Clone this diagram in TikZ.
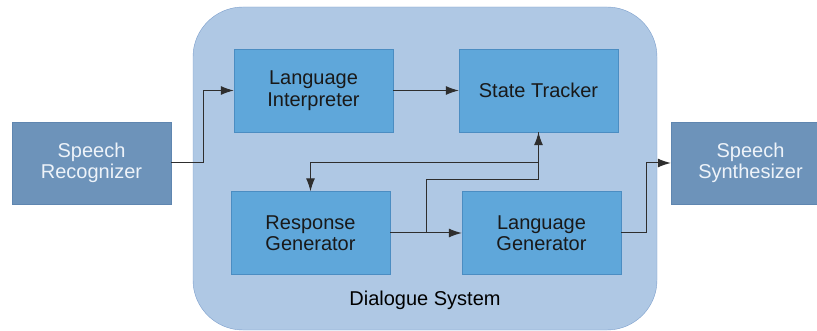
\documentclass[tikz,border=0pt]{standalone}
\usepackage{fontspec}
\setmainfont{Liberation Sans}
\usetikzlibrary{arrows.meta}
\definecolor{sysfill}{HTML}{AFC8E4}
\definecolor{sysline}{HTML}{7C9FCC}
\definecolor{modfill}{HTML}{5FA7DA}
\definecolor{modline}{HTML}{4B8DC2}
\definecolor{iofill}{HTML}{6D93BA}
\definecolor{ioline}{HTML}{5F86B0}
\definecolor{iotext}{HTML}{EEF3F9}
\definecolor{wire}{HTML}{2E2E2E}
\tikzstyle{module} = [draw=modline, fill=modfill, minimum width=159pt, minimum height=83pt, align=center, font=\fontsize{20}{21.5}\selectfont, text=black!90]
\tikzstyle{io} = [draw=ioline, fill=iofill, minimum width=159pt, minimum height=82pt, align=center, font=\fontsize{20}{21.5}\selectfont, text=iotext]
\tikzstyle{link} = [draw=wire, line width=1pt, -{Latex[length=13pt,width=9pt]}]

\begin{document}
\begin{tikzpicture}[x=1pt,y=-1pt]
    \useasboundingbox (0,0) rectangle (817,331);
    \draw[draw=sysline, fill=sysfill, rounded corners=50pt] (193,7) rectangle (657,330);
    \node at (425,300) {\fontsize{20}{22}\selectfont Dialogue System};
    \draw (91.5,163) node[io] (sr) {Speech\\Recognizer};
    \draw (750.5,163) node[io] (ss) {Speech\\Synthesizer};
    \draw (313.5,90.5) node[module] (li) {Language\\Interpreter};
    \draw (538.5,90.5) node[module] (st) {State Tracker};
    \draw (310.5,233) node[module] (rg) {Response\\Generator};
    \draw (541.5,233) node[module] (lg) {Language\\Generator};
    \coordinate (split) at (426,233);
    \draw[link] (sr.east) -- ++(32,0) |- (li.west);
    \draw[link] (li) -- (st);
    \draw[link] (st.south) -- ++(0,30) -| (rg.north);
    \draw[link] (rg) -- (lg);
    \draw[link] (split) -- ++(0,-53) -| (st.south);
    \draw[link] (lg.east) -- ++(25,0) |- (ss.west);
\end{tikzpicture}
\end{document}
